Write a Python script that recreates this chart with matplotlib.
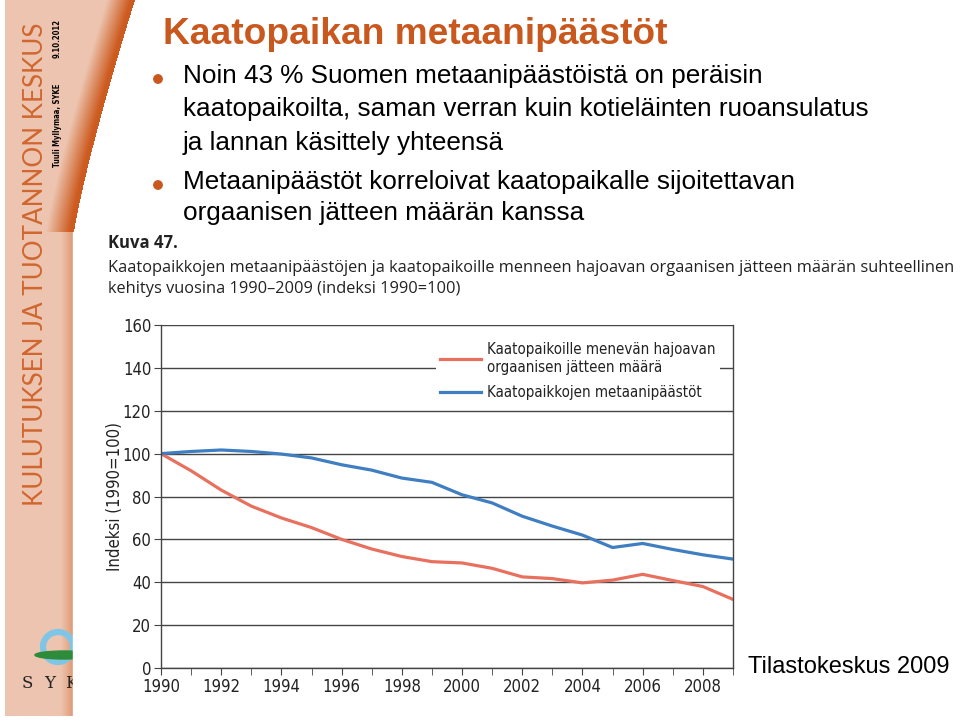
import numpy as np
import matplotlib
matplotlib.use('Agg')
import matplotlib.pyplot as plt
from matplotlib.patches import Rectangle, Circle, Ellipse

# data (index, 1990 = 100)
years = list(range(1990, 2010))
jate = [100, 92, 83, 75.5, 70, 65.5, 60, 55.5, 52, 49.6, 49, 46.5, 42.5,
        41.7, 39.7, 41, 43.7, 40.8, 38, 32]
metaani = [100, 101, 101.7, 101, 99.8, 98, 94.8, 92.3, 88.6, 86.6, 80.8, 77,
           70.8, 66.2, 62, 56.2, 58.1, 55.3, 52.8, 50.8]
labels = ['Kaatopaikoille menevän hajoavan\norgaanisen jätteen määrä',
          'Kaatopaikkojen metaanipäästöt']

title = 'Kaatopaikan metaanipäästöt'
bullets = [
    (76, True, 'Noin 43 % Suomen metaanipäästöistä on peräisin'),
    (109, False, 'kaatopaikoilta, saman verran kuin kotieläinten ruoansulatus'),
    (143, False, 'ja lannan käsittely yhteensä'),
    (182, True, 'Metaanipäästöt korreloivat kaatopaikalle sijoitettavan'),
    (213, False, 'orgaanisen jätteen määrän kanssa'),
]

orange = '#C9581F'
salmon = np.array([237, 196, 175]) / 255
dark = np.array([205, 90, 30]) / 255
cond = dict(family='DejaVu Sans', stretch='condensed')

fig = plt.figure(figsize=(9.6, 7.2), dpi=100)

# background in pixel coordinates
bg = fig.add_axes([0, 0, 1, 1])
bg.set_xlim(0, 960)
bg.set_ylim(720, 0)
bg.axis('off')

# sidebar with curved orange band
H, W = 720, 140
yy, xx = np.mgrid[0:H, 0:W] + 0.5
xc = 73 + 62 * np.clip(1 - yy / 240, 0, None) ** 1.2
d = xc - xx
t = np.clip((d - 4) / 24, 0, 1)
t = np.where(yy > 232, np.maximum(t, 0.6 + 0.4 * np.clip((73 - xx) / 12, 0, 1)), t)
t = t[..., None]
rgb = dark * (1 - t) + salmon * t
alpha = ((xx <= np.maximum(xc, 74)) & (xx >= 5) & (yy <= 716))
alpha = alpha.astype(float)[..., None]
img = np.concatenate([rgb, alpha], axis=2)
bg.imshow(img, extent=(0, W, H, 0), interpolation='bilinear', zorder=0)

# SYKE logo
bg.add_patch(Circle((58, 647), 15, fill=False, ec='#7FC6E6', lw=4.5, zorder=1))
bg.add_patch(Ellipse((64, 655), 58, 8, color='#2E8B3A', zorder=2))
for x, ch in zip([27, 50, 71, 92], 'SYKE'):
    bg.text(x, 684, ch, family='DejaVu Serif', fontsize=12, ha='center',
            va='center', color='#222222', zorder=2)

# white picture area covers the band
bg.add_patch(Rectangle((73, 232), 900, 500, color='white', zorder=3))

bg.text(36, 264, 'KULUTUKSEN JA TUOTANNON KESKUS', rotation=90, ha='center',
        va='center', fontsize=18.7, color='#D06630', family='Lato',
        zorder=4)
bg.text(57, 125, 'Tuuli Myllymaa, SYKE', rotation=90, ha='center', va='center',
        fontsize=5.5, fontweight='bold', zorder=4, **cond)
bg.text(57, 38, '9.10.2012', rotation=90, ha='center', va='center',
        fontsize=5.5, fontweight='bold', zorder=4, **cond)

bg.text(163, 35, title, fontsize=26.7, fontweight='bold', color=orange,
        family='Liberation Sans', va='center', zorder=4)
for y, dot, s in bullets:
    if dot:
        bg.add_patch(Circle((158, y + 3), 4.2, color=orange, zorder=4))
    bg.text(183, y, s, fontsize=18.8, family='Liberation Sans', va='center',
            zorder=4)

bg.text(108, 243, 'Kuva 47.', fontsize=12, fontweight='bold',
        family='Open Sans', va='center', color='#222222', zorder=4)
bg.text(108, 268, 'Kaatopaikkojen metaanipäästöjen ja kaatopaikoille menneen '
        'hajoavan orgaanisen jätteen määrän suhteellinen', fontsize=11.8,
        family='Open Sans', va='center', color='#222222', zorder=4)
bg.text(108, 289, 'kehitys vuosina 1990–2009 (indeksi 1990=100)',
        fontsize=11.8, family='Open Sans', va='center', color='#222222',
        zorder=4)
bg.text(748, 667, 'Tilastokeskus 2009', fontsize=17,
        family='Liberation Sans', va='center', zorder=4)

# chart
ax = fig.add_axes([161 / 960, 52 / 720, 572 / 960, 343 / 720], zorder=5)
ax.set_facecolor('white')
ax.plot(years, jate, color='#E8705F', lw=2.3, label=labels[0])
ax.plot(years, metaani, color='#3F7EC1', lw=2.3, label=labels[1])
ax.set_xlim(1990, 2009)
ax.set_ylim(0, 160)
ax.set_yticks(range(0, 161, 20))
ax.set_xticks(range(1990, 2009, 2))
ax.set_xticks(range(1990, 2010), minor=True)
ax.yaxis.grid(True, color='#444444', lw=1)
ax.set_axisbelow(True)
for s in ax.spines.values():
    s.set_color('#444444')
    s.set_linewidth(1)
ax.spines['top'].set_visible(False)
ax.tick_params(which='both', direction='out', length=5, color='#444444',
               labelsize=12, labelcolor='#222222', pad=2)
for lab in ax.get_xticklabels() + ax.get_yticklabels():
    lab.set_family('DejaVu Sans')
    lab.set_stretch('condensed')
ax.set_ylabel('Indeksi (1990=100)', fontsize=12, color='#222222', **cond)
ax.yaxis.set_label_coords(-0.065, 0.5)
leg = ax.legend(loc='upper right', bbox_to_anchor=(0.99, 0.985),
                frameon=True, fancybox=False, framealpha=1,
                edgecolor='none', handlelength=2.7, labelspacing=0.7,
                prop={'family': 'DejaVu Sans', 'stretch': 'condensed',
                      'size': 10.8}, borderpad=0.3, handletextpad=0.4)
for tx in leg.get_texts():
    tx.set_color('#222222')

fig.savefig('out.png', dpi=100)
